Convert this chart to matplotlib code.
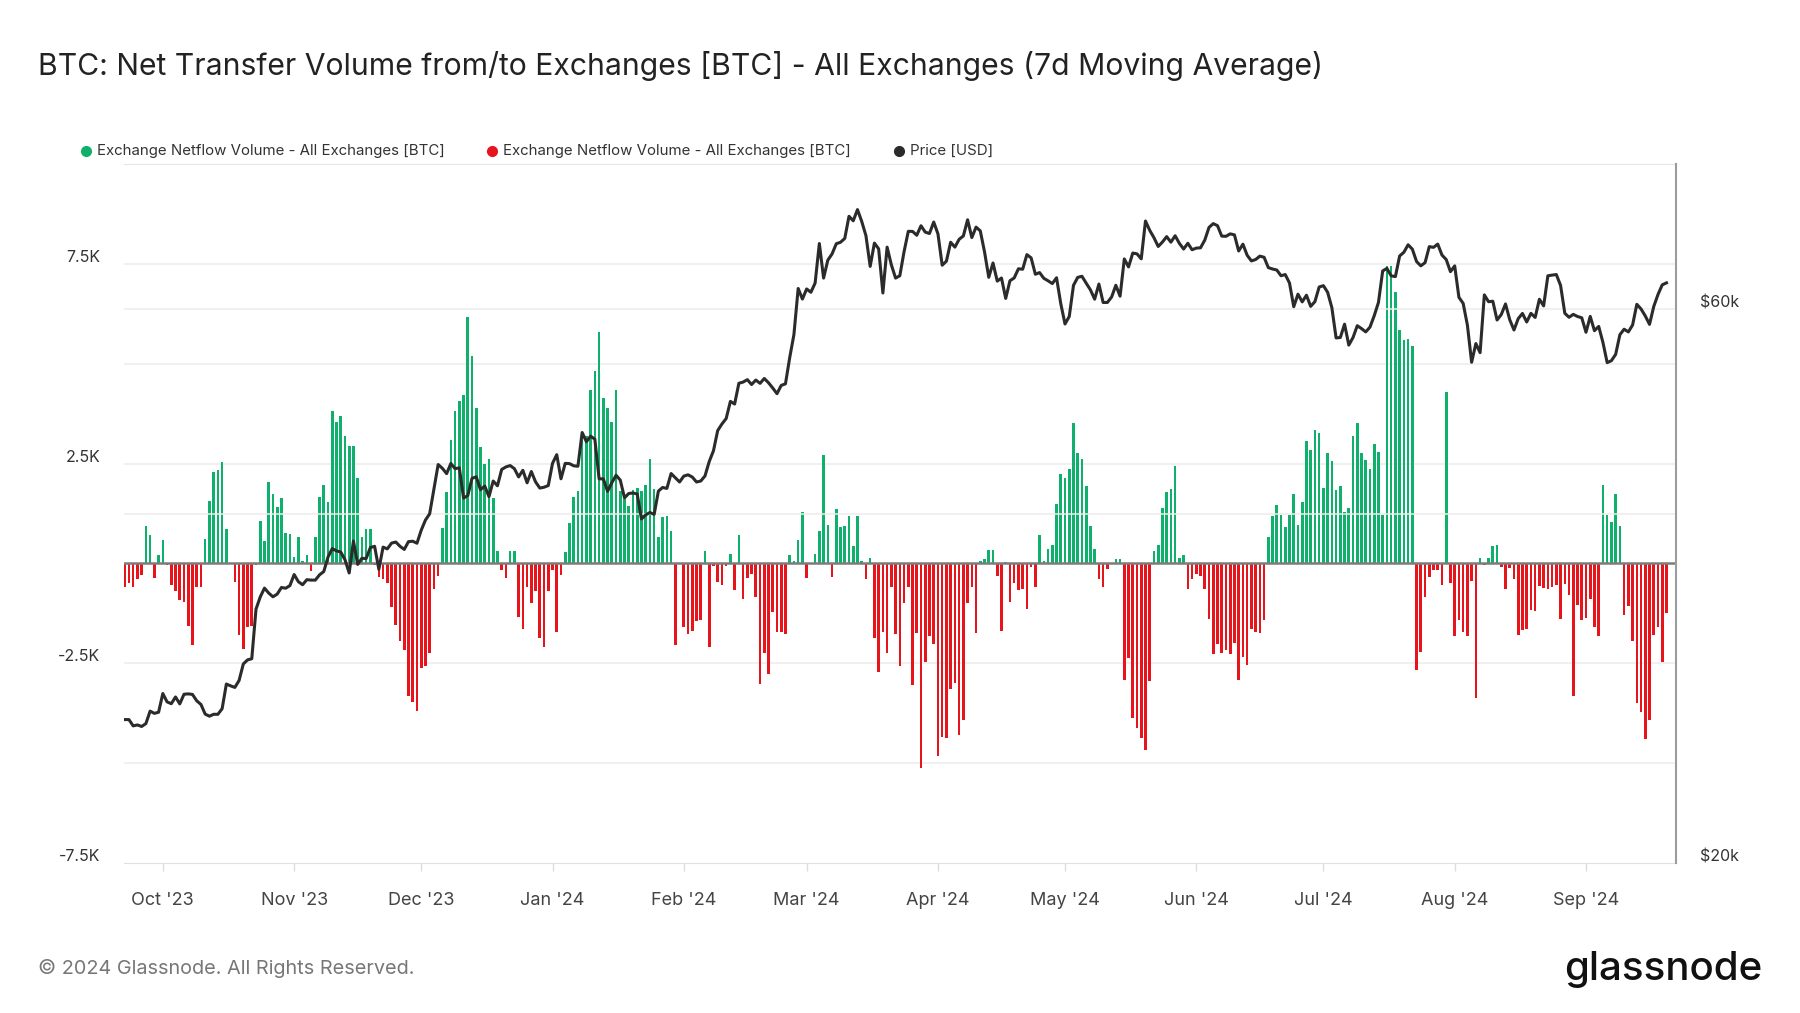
import numpy as np
import pandas as pd
import matplotlib
matplotlib.use('Agg')
import matplotlib.pyplot as plt
from matplotlib.lines import Line2D
from matplotlib.ticker import NullLocator
from matplotlib.transforms import ScaledTranslation

plt.rcParams['font.family'] = ['Inter', 'DejaVu Sans']

start_date = '2023-09-22'

# net transfer volume, thousands of BTC (7d MA), one value per day from start_date
netflow_k = [
    -0.58, -0.50, -0.58, -0.40, -0.28, 0.93, 0.70, -0.37, 0.20, 0.58,
    -0.03, -0.55, -0.70, -0.92, -0.97, -1.56, -2.05, -0.60, -0.60, 0.62,
    1.56, 2.30, 2.35, 2.53, 0.85, -0.02, -0.47, -1.79, -2.13, -1.60,
    -1.56, -0.05, 1.07, 0.55, 2.05, 1.74, 1.41, 1.63, 0.77, 0.73,
    0.17, 0.65, 0.05, 0.20, -0.18, 0.65, 1.66, 1.97, 1.53, 3.82,
    3.55, 3.70, 3.18, 2.95, 2.95, 2.13, 0.65, 0.85, 0.85, -0.05,
    -0.35, -0.40, -0.50, -1.10, -1.55, -1.93, -2.16, -3.33, -3.48, -3.70,
    -2.63, -2.58, -2.23, -0.65, -0.32, 0.89, 1.80, 3.10, 3.82, 4.07,
    4.22, 6.18, 5.19, 3.88, 2.92, 2.50, 2.61, 1.63, 0.32, -0.16,
    -0.37, 0.32, 0.32, -1.34, -1.63, -0.58, -1.00, -0.70, -1.86, -2.08,
    -0.70, -0.16, -1.72, -0.28, 0.28, 1.00, 1.66, 1.82, 3.10, 3.20,
    4.33, 4.82, 5.80, 4.14, 3.88, 3.53, 4.33, 1.82, 1.61, 1.45,
    1.84, 1.89, 1.82, 1.97, 2.61, 1.86, 0.65, 1.15, 1.19, 0.81,
    -2.05, 0.02, -1.60, -1.76, -1.68, -1.44, -1.42, 0.30, -2.08, -0.07,
    -0.47, -0.55, -0.07, 0.24, -0.66, 0.70, -0.89, -0.37, -0.26, -0.84,
    -3.02, -2.24, -2.77, -1.21, -1.72, -1.72, -1.76, 0.20, 0.05, 0.58,
    1.29, -0.37, 0.02, 0.24, 0.81, 2.72, 0.95, -0.33, 1.37, 0.90,
    0.93, 1.19, 0.43, 1.19, 0.05, -0.39, 0.13, -1.86, -2.72, -1.72,
    -2.23, -0.58, -1.76, -2.56, -1.00, -0.60, -3.05, -1.75, -5.12, -2.48,
    -1.82, -2.01, -4.82, -4.34, -4.37, -3.14, -3.00, -4.29, -3.93, -0.99,
    -0.58, -1.75, 0.05, 0.10, 0.33, 0.33, -0.32, -1.70, 0.03, -0.96,
    -0.50, -0.66, -0.65, -1.15, -0.10, -0.58, 0.72, 0.05, 0.36, 0.47,
    1.48, 2.23, 2.13, 2.36, 3.52, 2.77, 2.62, 1.94, 0.93, 0.36,
    -0.38, -0.58, -0.13, -0.02, 0.10, 0.10, -2.91, -2.36, -3.86, -4.13,
    -4.38, -4.68, -2.95, 0.32, 0.47, 1.40, 1.78, 1.86, 2.43, 0.13,
    0.20, -0.65, -0.39, -0.27, -0.32, -0.63, -1.38, -2.28, -2.02, -2.24,
    -2.17, -2.28, -1.99, -2.91, -2.35, -2.55, -1.63, -1.72, -1.75, -1.42,
    0.65, 1.19, 1.47, 1.22, 0.92, 1.22, 1.75, 0.96, 1.53, 3.06,
    2.83, 3.33, 3.27, 1.90, 2.77, 2.57, 1.85, 1.93, 1.30, 1.38,
    3.18, 3.51, 2.77, 2.58, 2.36, 2.99, 2.80, 1.22, 7.44, 7.44,
    6.80, 5.84, 5.59, 5.62, 5.45, -2.67, -2.22, -0.84, -0.35, -0.16,
    -0.16, -0.55, 4.30, -0.50, -1.81, -1.42, -1.72, -1.81, -0.43, -3.38,
    0.13, -0.05, 0.13, 0.44, 0.47, -0.08, -0.65, -0.12, -0.38, -1.78,
    -1.67, -1.65, -1.16, -1.18, -0.57, -0.61, -0.63, -0.60, -0.55, -1.38,
    -0.52, -0.79, -3.32, -1.05, -1.41, -1.37, -0.88, -1.60, -1.81, 1.97,
    1.20, 1.04, 1.75, 0.93, -1.29, -1.07, -1.93, -3.50, -3.73, -4.39,
    -3.92, -1.78, -1.60, -2.47, -1.25,
]

# BTC price, thousands of USD, one value per day from start_date
price_k = [
    26.58, 26.58, 26.25, 26.30, 26.22, 26.37, 27.03, 26.91, 26.97,
    # Oct 2023
    27.99, 27.53, 27.43, 27.80, 27.42, 27.95, 27.97, 27.94, 27.59, 27.39,
    26.87, 26.76, 26.86, 26.86, 27.16, 28.52, 28.42, 28.33, 28.72, 29.68,
    29.92, 29.99, 33.09, 33.90, 34.50, 34.16, 33.91, 34.09, 34.54, 34.49, 34.67,
    # Nov
    35.44, 34.94, 34.73, 35.08, 35.05, 35.05, 35.42, 35.65, 36.69, 37.31,
    37.14, 37.06, 36.50, 35.55, 37.88, 36.16, 36.60, 36.58, 37.39, 37.48,
    35.81, 37.42, 37.29, 37.72, 37.80, 37.48, 37.25, 37.83, 37.86, 37.71,
    # Dec
    38.69, 39.48, 39.98, 41.98, 44.08, 43.75, 43.29, 44.17, 43.72, 43.79,
    41.24, 41.45, 42.89, 43.02, 41.93, 42.24, 41.36, 42.66, 42.26, 43.65,
    43.87, 43.99, 43.72, 43.01, 43.58, 42.51, 43.47, 42.59, 42.07, 42.14, 42.28,
    # Jan 2024
    44.18, 44.95, 42.85, 44.18, 44.16, 43.97, 43.93, 46.97, 46.12, 46.63,
    46.35, 42.85, 42.84, 41.80, 42.51, 43.15, 42.74, 41.26, 41.62, 41.66,
    41.58, 39.57, 39.89, 40.08, 39.93, 41.82, 42.12, 42.04, 43.30, 42.94, 42.58,
    # Feb
    43.08, 43.19, 43.00, 42.58, 42.66, 43.09, 44.34, 45.30, 47.15, 47.77,
    48.29, 49.96, 49.70, 51.79, 51.91, 52.16, 51.66, 52.12, 51.78, 52.28,
    51.84, 51.30, 50.73, 51.57, 51.73, 54.48, 57.05, 62.50, 61.20,
    # Mar
    62.44, 62.03, 63.17, 68.33, 63.80, 66.11, 66.93, 68.30, 68.50, 69.02,
    72.12, 71.48, 73.08, 71.40, 69.40, 65.30, 68.39, 67.61, 61.94, 67.84,
    65.50, 63.80, 64.10, 67.23, 70.00, 69.99, 69.46, 70.78, 69.89, 69.70, 71.30,
    # Apr
    69.65, 65.45, 65.98, 68.50, 67.84, 68.90, 69.36, 71.62, 69.14, 70.59,
    70.06, 67.20, 63.90, 65.74, 63.42, 63.81, 61.28, 63.47, 63.82, 64.99,
    64.93, 66.84, 66.41, 64.29, 64.50, 63.77, 63.46, 63.11, 63.84, 60.64,
    # May
    58.25, 59.12, 62.89, 63.89, 64.03, 63.16, 62.33, 61.19, 63.05, 60.79,
    60.79, 61.45, 62.90, 61.55, 66.27, 65.23, 67.05, 66.94, 66.28, 71.45,
    70.14, 69.12, 67.93, 68.53, 69.27, 68.51, 69.39, 68.35, 67.58, 68.36, 67.49,
    # Jun
    67.71, 67.75, 68.80, 70.55, 71.08, 70.79, 69.34, 69.31, 69.65, 69.51,
    67.32, 68.24, 66.76, 66.01, 66.19, 66.64, 66.49, 65.14, 64.96, 64.83,
    64.10, 64.25, 63.18, 60.28, 61.80, 60.86, 61.67, 60.32, 60.89, 62.68,
    # Jul
    62.85, 62.03, 60.17, 56.66, 56.71, 58.23, 55.86, 56.71, 58.05, 57.72,
    57.34, 57.89, 59.21, 60.79, 64.71, 65.04, 64.09, 63.99, 66.66, 67.15,
    68.16, 67.57, 65.93, 65.37, 65.78, 67.91, 67.81, 68.25, 66.78, 66.19, 64.62,
    # Aug
    65.36, 61.41, 60.68, 58.12, 53.99, 56.03, 55.03, 61.71, 60.88, 60.94,
    58.71, 59.35, 60.61, 58.74, 57.56, 58.87, 59.48, 58.48, 59.49, 59.01,
    61.18, 60.38, 64.09, 64.18, 64.25, 62.88, 59.50, 59.03, 59.37, 59.12, 58.97,
    # Sep
    57.30, 59.13, 57.48, 57.97, 56.16, 53.95, 54.16, 54.84, 57.02, 57.65,
    57.34, 58.13, 60.57, 60.01, 59.18, 58.21, 60.31, 61.76, 62.95, 63.20,
]

month_ticks = ['2023-10-01', '2023-11-01', '2023-12-01', '2024-01-01', '2024-02-01', '2024-03-01',
               '2024-04-01', '2024-05-01', '2024-06-01', '2024-07-01', '2024-08-01', '2024-09-01']
month_labels = ["Oct '23", "Nov '23", "Dec '23", "Jan '24", "Feb '24", "Mar '24",
                "Apr '24", "May '24", "Jun '24", "Jul '24", "Aug '24", "Sep '24"]
left_ticks = [-7.5, -2.5, 2.5, 7.5]
left_tick_labels = ['-7.5K', '-2.5K', '2.5K', '7.5K']
price_ticks = [20000, 60000]
price_tick_labels = ['$20k', '$60k']

title = 'BTC: Net Transfer Volume from/to Exchanges [BTC] - All Exchanges (7d Moving Average)'
series_name = 'Exchange Netflow Volume - All Exchanges [BTC]'

GREEN = '#0fb06c'
RED = '#e8141b'
DARK = '#2b2b2b'
GRID = '#ececec'

flow = np.array(netflow_k)
flow_dates = pd.date_range(start_date, periods=len(flow), freq='D')
price = np.array(price_k) * 1000
price_dates = pd.date_range(start_date, periods=len(price), freq='D')

fig = plt.figure(figsize=(18, 10.13), dpi=100)
ax = fig.add_axes([124 / 1800, 1 - 863 / 1013, (1676 - 124) / 1800, (863 - 164) / 1013])

# grid lines (left axis units)
for v in [-5, -2.5, 2.5, 5, 7.5]:
    ax.axhline(v, color=GRID, lw=1.1, zorder=0)

pos = flow > 0
ax.bar(flow_dates[pos], flow[pos], width=0.62, color=GREEN, zorder=2)
ax.bar(flow_dates[~pos], flow[~pos], width=0.62, color=RED, zorder=2)
ax.axhline(0, color='#7c7c7c', lw=1.8, zorder=3)

ax.set_ylim(-7.5, 10.0)
ax.set_xlim(pd.Timestamp('2023-09-21 20:00'), pd.Timestamp('2024-09-22 06:00'))

ax.set_yticks(left_ticks)
ax.set_yticklabels(left_tick_labels)
ax.tick_params(axis='y', length=0, pad=17, labelsize=11.5, labelcolor='#333333')
for lab in ax.get_yticklabels():
    lab.set_transform(lab.get_transform() + ScaledTranslation(0, 0.08, fig.dpi_scale_trans))

ax.set_xticks(pd.to_datetime(month_ticks))
ax.set_xticklabels(month_labels)
ax.tick_params(axis='x', length=6, width=1, color='#dddddd', pad=15, labelsize=13, labelcolor='#444444')

for side in ['left', 'right']:
    ax.spines[side].set_visible(False)
ax.spines['top'].set_color('#e6e6e6')
ax.spines['bottom'].set_color('#e0e0e0')

ax2 = ax.twinx()
ax2.set_yscale('log')
ax2.set_ylim(20000, 80000)
ax2.axhline(40000, color=GRID, lw=1.1, zorder=0)
ax2.axhline(60000, color=GRID, lw=1.1, zorder=0)
ax2.plot(price_dates, price, color=DARK, lw=2.2, zorder=4)
ax2.yaxis.set_minor_locator(NullLocator())
ax2.set_yticks(price_ticks)
ax2.set_yticklabels(price_tick_labels)
ax2.tick_params(axis='y', length=0, pad=17, labelsize=11.5, labelcolor='#333333')
for lab in ax2.get_yticklabels():
    lab.set_transform(lab.get_transform() + ScaledTranslation(0, 0.08, fig.dpi_scale_trans))
for side in ['left', 'top', 'bottom']:
    ax2.spines[side].set_visible(False)
ax2.spines['right'].set_color('#9c9c9c')
ax2.spines['right'].set_linewidth(1.5)

# title
fig.text(38 / 1800, 1 - 66 / 1013, title, fontsize=21.7, color='#222222', va='center')

# legend row
leg_y = 1 - 151 / 1013
legend_items = [(86, GREEN, series_name), (492, RED, series_name), (899, DARK, 'Price [USD]')]
for x_px, col, lab in legend_items:
    fig.add_artist(Line2D([x_px / 1800], [leg_y], marker='o', markersize=7, color=col,
                          linestyle='none', transform=fig.transFigure))
    fig.text((x_px + 11) / 1800, leg_y, lab, fontsize=10.8, color='#333333', va='center')

# footer
fig.text(38 / 1800, 1 - 968 / 1013, '\u00a9 2024 Glassnode. All Rights Reserved.', fontsize=14.3,
         color='#777777', va='center')
fig.text(1762 / 1800, 1 - 970 / 1013, 'glassnode', fontsize=29, color='#111111', ha='right',
         va='center', fontweight='medium')

fig.savefig('out.png', dpi=100, facecolor='white')
